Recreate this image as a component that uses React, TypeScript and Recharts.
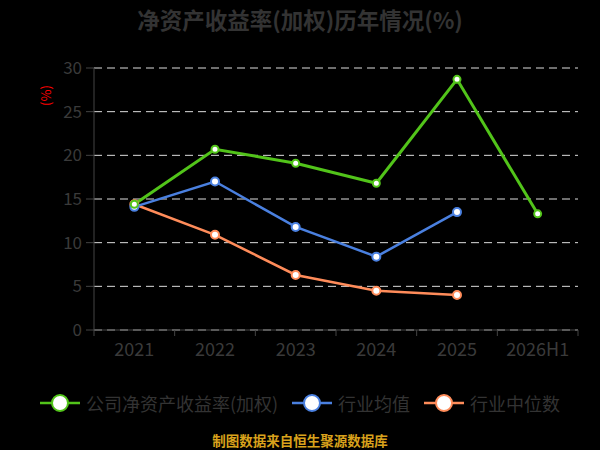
import React from 'react';
import { LineChart, Line, XAxis, YAxis, CartesianGrid } from 'recharts';

const categories = ['2021', '2022', '2023', '2024', '2025', '2026H1'];
const companyRoe = [14.4, 20.7, 19.1, 16.8, 28.7, 13.3];
const industryAvg = [14.1, 17.0, 11.8, 8.4, 13.5, null];
const industryMedian = [14.4, 10.9, 6.3, 4.5, 4.0, null];
const yTicks = [0, 5, 10, 15, 20, 25, 30];

const GREEN = '#52c41a';
const BLUE = '#4a80e0';
const ORANGE = '#ff8c5a';
const FONT = '"Noto Sans CJK SC", "Noto Sans", sans-serif';

const data = categories.map((c, i) => ({
  idx: i,
  name: c,
  company: companyRoe[i],
  avg: industryAvg[i],
  median: industryMedian[i],
}));

const xTicks: number[] = [];
for (let i = 0; i < categories.length; i++) {
  xTicks.push(i - 0.5);
  xTicks.push(i);
}
xTicks.push(categories.length - 0.5);

const TICK_SIZE = 6;
const TICK_MARGIN = 2;

const XTick = (props: any) => {
  const { x, y, payload } = props;
  const v = payload.value as number;
  const axisY = y - TICK_SIZE - TICK_MARGIN;
  if (!Number.isInteger(v)) {
    return <line x1={x} x2={x} y1={axisY} y2={axisY + TICK_SIZE} stroke="#444" strokeWidth={1} />;
  }
  return (
    <text x={x} y={axisY + 26} textAnchor="middle" fill="#3a3a3a" fontSize={18} fontFamily={FONT}>
      {categories[v]}
    </text>
  );
};

const legendItems = [
  { label: '公司净资产收益率(加权)', color: GREEN },
  { label: '行业均值', color: BLUE },
  { label: '行业中位数', color: ORANGE },
];

export default function App() {
  return (
    <div style={{ position: 'absolute', left: 0, top: 0, width: 600, height: 450, background: '#000', fontFamily: FONT }}>
      <div style={{ position: 'absolute', top: 3, left: 0, width: 600, textAlign: 'center', fontSize: 22.5, fontWeight: 'bold', color: '#333' }}>
        净资产收益率(加权)历年情况(%)
      </div>
      <div style={{ position: 'absolute', left: 35, top: 86, transform: 'rotate(-90deg)', color: '#ff0000', fontSize: 13 }}>(%)</div>
      <LineChart width={600} height={450} data={data} margin={{ top: 68, right: 22, bottom: 90, left: 0 }}>
        <CartesianGrid horizontal vertical={false} stroke="#ddd" strokeDasharray="8 5" />
        <XAxis
          dataKey="idx"
          type="number"
          domain={[-0.5, categories.length - 0.5]}
          ticks={xTicks}
          height={30}
          stroke="#444"
          tick={<XTick />}
          tickLine={false}
          tickSize={TICK_SIZE}
          tickMargin={TICK_MARGIN}
          interval={0}
        />
        <YAxis
          width={94}
          domain={[0, 30]}
          ticks={yTicks}
          stroke="#444"
          tick={{ fill: '#3a3a3a', fontSize: 17, fontFamily: FONT }}
          tickSize={8}
          tickMargin={4}
        />
        <Line type="linear" dataKey="median" stroke={ORANGE} strokeWidth={2.5} dot={{ r: 4, fill: '#fff', stroke: ORANGE, strokeWidth: 2 }} isAnimationActive={false} />
        <Line type="linear" dataKey="avg" stroke={BLUE} strokeWidth={2.5} dot={{ r: 4, fill: '#fff', stroke: BLUE, strokeWidth: 2 }} isAnimationActive={false} />
        <Line type="linear" dataKey="company" stroke={GREEN} strokeWidth={3} dot={{ r: 3.5, fill: '#fff', stroke: GREEN, strokeWidth: 2 }} isAnimationActive={false} />
      </LineChart>
      <div style={{ position: 'absolute', top: 390, left: 0, width: 600, display: 'flex', justifyContent: 'center', alignItems: 'center', gap: 14 }}>
        {legendItems.map((it) => (
          <div key={it.label} style={{ display: 'flex', alignItems: 'center' }}>
            <svg width={40} height={24}>
              <line x1={0} y1={12} x2={40} y2={12} stroke={it.color} strokeWidth={2.5} />
              <circle cx={20} cy={12} r={8} fill="#fff" stroke={it.color} strokeWidth={2} />
            </svg>
            <span style={{ marginLeft: 6, fontSize: 18, color: '#333' }}>{it.label}</span>
          </div>
        ))}
      </div>
      <div style={{ position: 'absolute', top: 431, left: 0, width: 600, textAlign: 'center', fontSize: 13.5, lineHeight: '18px', fontWeight: 'bold', color: '#d9a21c' }}>
        制图数据来自恒生聚源数据库
      </div>
    </div>
  );
}
